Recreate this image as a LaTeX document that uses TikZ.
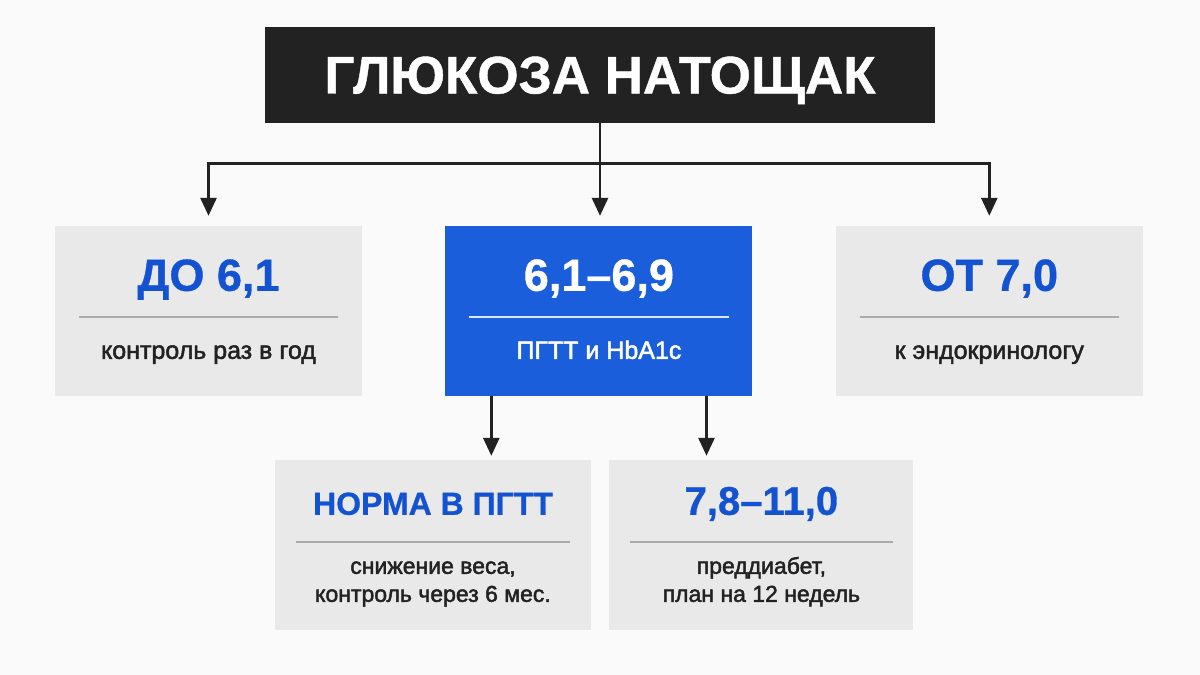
\documentclass[tikz,border=0pt]{standalone}
\usepackage{fontspec}
\setmainfont{Liberation Sans}[BoldFeatures={FakeBold=0.8}]
\newfontfamily\medfont{Liberation Sans}[FakeBold=2]
\usepackage{xcolor}
\usetikzlibrary{arrows.meta,calc,positioning}
\definecolor{ink}{HTML}{222222}
\definecolor{pagebg}{HTML}{FAFAFA}
\definecolor{cardgrey}{HTML}{E9E9E9}
\definecolor{cardblue}{HTML}{1A5EDB}
\definecolor{headblue}{HTML}{1352D0}
\definecolor{rulegrey}{HTML}{ABABAB}
\tikzset{%
	header/.style  = {fill=ink, text=white, minimum width=670pt, minimum height=96pt, text depth=0pt, font=\fontsize{53}{60}\selectfont\bfseries},
	card/.style    = {fill=cardgrey, minimum width=307pt, minimum height=170pt, inner sep=0pt}, % grey box
	hot/.style     = {card, fill=cardblue}, % blue box
	head/.style    = {anchor=base, text=headblue, font=\fontsize{45}{54}\selectfont\bfseries},
	note/.style    = {anchor=base, text=ink, align=center, font=\fontsize{25}{28}\selectfont\medfont},
	sepline/.style = {draw=rulegrey, line width=1.5pt},
	arrow/.style   = {draw=ink, line width=2.8pt, -{Triangle[width=16pt,length=18pt]}, shorten >=10pt},
}

\begin{document}
\begin{tikzpicture}[x=1pt,y=-1pt]
	\fill[pagebg] (0,0) rectangle (1200,675);

	\node [header] (gluc) at (600,75) {ГЛЮКОЗА НАТОЩАК};

	% first row
	\node [card] (low) at (208.5,311) {};
	\node [hot, right=83pt of low] (mid) {};
	\node [card, right=83pt of mid] (high) {};

	\node [head] (low-h) at ($(low.north)+(0,65)$) {ДО 6,1};
	\node [head, text=white] (mid-h) at ($(mid.north)+(0,65)$) {6,1–6,9};
	\node [head] (high-h) at ($(high.north)+(0,65)$) {ОТ 7,0};

	\draw[sepline] ($(low.north west)+(24,91)$) -- ($(low.north east)+(-24,91)$);
	\draw[sepline, draw=white!85!cardblue] ($(mid.north west)+(24,91)$) -- ($(mid.north east)+(-24,91)$);
	\draw[sepline] ($(high.north west)+(24,91)$) -- ($(high.north east)+(-24,91)$);

	\node [note] (low-t) at ($(low.north)+(0,133)$) {контроль раз в год};
	\node [note, text=white] (mid-t) at ($(mid.north)+(0,133)$) {ПГТТ и HbA1c};
	\node [note] (high-t) at ($(high.north)+(0,133)$) {к эндокринологу};

	% second row
	\node [card, minimum width=316pt] (norm) at (433,545) {};
	\node [card, minimum width=304pt, right=18pt of norm] (pre) {};

	\node [head, font=\fontsize{32}{38}\selectfont\bfseries] (norm-h) at ($(norm.north)+(0,55)$) {НОРМА В ПГТТ};
	\node [head, font=\fontsize{40}{48}\selectfont\bfseries] (pre-h) at ($(pre.north)+(0,55)$) {7,8–11,0};

	\draw[sepline] ($(norm.north west)+(21,82)$) -- ($(norm.north east)+(-21,82)$);
	\draw[sepline] ($(pre.north west)+(21,82)$) -- ($(pre.north east)+(-21,82)$);

	\node [note, font=\fontsize{23}{28}\selectfont\medfont] (norm-t) at ($(norm.north)+(0,142)$) {снижение веса,\\контроль через 6 мес.};
	\node [note, font=\fontsize{23}{28}\selectfont\medfont] (pre-t) at ($(pre.north)+(0,142)$) {преддиабет,\\план на 12 недель};

	% connectors
	\coordinate (split) at ($(gluc.south)+(0,40)$);
	\coordinate (forkL) at ($(mid.south west)!0.15!(mid.south east)$);
	\coordinate (forkR) at ($(mid.south west)!0.85!(mid.south east)$);

	\draw[arrow] (gluc.south) -- (gluc.south |- mid.north);
	\draw[arrow] (split) -| (low.north);
	\draw[arrow] (split) -| (high.north);
	\draw[arrow, shorten >=4pt] (forkL) -- (forkL |- norm.north);
	\draw[arrow, shorten >=4pt] (forkR) -- (forkR |- pre.north);
\end{tikzpicture}
\end{document}
